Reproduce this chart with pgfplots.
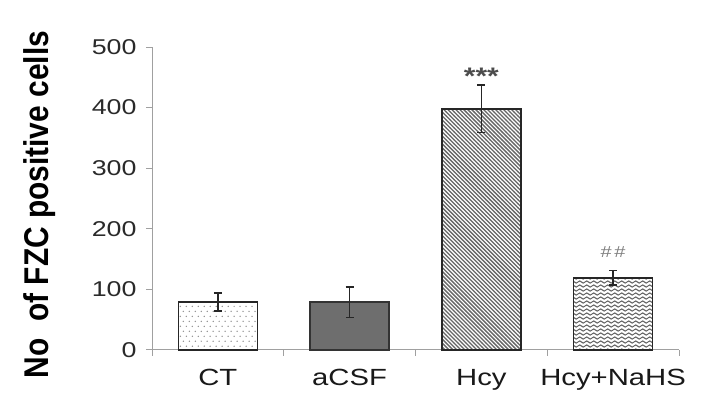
\documentclass[border=0pt]{standalone}
\usepackage{fontspec}
\setmainfont{Liberation Sans}[FakeStretch=1.25]
\newfontfamily\ylabfont{Liberation Sans}
\usepackage{pgfplots}
\pgfplotsset{compat=1.18}
\usetikzlibrary{patterns}
\definecolor{axgray}{HTML}{A0A0A0}
\definecolor{tickgray}{HTML}{2A2A2A}
\definecolor{darkfill}{HTML}{6E6E6E}
\pgfdeclarepatternformonly{sparsedots}{\pgfqpoint{-1pt}{-1pt}}{\pgfqpoint{7pt}{11pt}}{\pgfqpoint{6pt}{10pt}}{%
  \pgfpathcircle{\pgfqpoint{1pt}{1pt}}{0.75pt}%
  \pgfpathcircle{\pgfqpoint{4pt}{6pt}}{0.75pt}%
  \pgfusepath{fill}}
\pgfdeclarepatternformonly{densehatch}{\pgfqpoint{-1pt}{-1pt}}{\pgfqpoint{5pt}{5pt}}{\pgfqpoint{4pt}{4pt}}{%
  \pgfsetlinewidth{1.3pt}%
  \pgfpathmoveto{\pgfqpoint{-0.1pt}{4.1pt}}%
  \pgfpathlineto{\pgfqpoint{4.1pt}{-0.1pt}}%
  \pgfusepath{stroke}}
\pgfdeclarepatternformonly{waves}{\pgfqpoint{0pt}{0pt}}{\pgfqpoint{7pt}{4pt}}{\pgfqpoint{7pt}{4pt}}{%
  \pgfsetlinewidth{1.1pt}%
  \pgfpathmoveto{\pgfqpoint{0pt}{2pt}}%
  \pgfpathcurveto{\pgfqpoint{1.15pt}{3.4pt}}{\pgfqpoint{2.35pt}{3.4pt}}{\pgfqpoint{3.5pt}{2pt}}%
  \pgfpathcurveto{\pgfqpoint{4.65pt}{0.6pt}}{\pgfqpoint{5.85pt}{0.6pt}}{\pgfqpoint{7pt}{2pt}}%
  \pgfusepath{stroke}}
\begin{document}
\begin{tikzpicture}
\path[use as bounding box] (0,0) rectangle (706bp,407bp);
\begin{axis}[
  at={(152bp,57bp)}, anchor=south west,
  scale only axis, width=527bp, height=303bp,
  xmin=0, xmax=4, ymin=0, ymax=500,
  axis x line*=bottom, axis y line*=left,
  axis line style={axgray, line width=1bp},
  tick align=outside,
  xtick={0.5,1.5,2.5,3.5},
  xticklabels={CT,aCSF,Hcy,Hcy+NaHS},
  major x tick style={draw=none},
  minor xtick={0,1,2,3,4},
  minor tick length=6bp,
  minor x tick style={axgray, line width=1bp},
  ytick={0,100,200,300,400,500},
  major tick length=6bp,
  y tick style={axgray, line width=1bp},
  /pgf/number format/assume math mode=true,
  yticklabel style={font=\fontsize{21.5}{24}\selectfont, text=tickgray, xshift=-6bp},
  xticklabel style={font=\fontsize{23.5}{26}\selectfont, text=black!90, yshift=-10bp},
  ylabel={\ylabfont\bfseries No\ \ of FZC positive cells},
  ylabel style={font=\fontsize{30}{32}\selectfont, at={(axis description cs:-0.214,0.48)}, anchor=center, rotate=0, yscale=1.15},
  clip=false,
  error bars/error bar style={line width=1.5bp, black!85},
  error bars/error mark options={rotate=90, mark size=4bp, line width=1.5bp, black!85},
]
\addplot[ybar, bar width=0.6, bar shift=0pt, draw=black!85, line width=1.5bp, pattern=sparsedots, pattern color=black!45,
  error bars/.cd, y dir=both, y explicit] coordinates {(0.5,79) +- (0,15)};
\addplot[ybar, bar width=0.6, bar shift=0pt, draw=black!80, line width=1.5bp, fill=darkfill,
  error bars/.cd, y dir=both, y explicit] coordinates {(1.5,79) +- (0,25)};
\addplot[ybar, bar width=0.6, bar shift=0pt, draw=black!85, line width=1.5bp, pattern=densehatch, pattern color=black!60,
  error bars/.cd, y dir=both, y explicit] coordinates {(2.5,398) +- (0,39)};
\addplot[ybar, bar width=0.6, bar shift=0pt, draw=black!85, line width=1.5bp, pattern=waves, pattern color=black!60,
  error bars/.cd, y dir=both, y explicit] coordinates {(3.5,119) +- (0,12)};
\node[font=\fontsize{24}{24}\selectfont\bfseries, text=black!70] at (axis cs:2.5,452) {***};
\node[font=\fontsize{16}{16}\selectfont, text=black!50] at (axis cs:3.5,162) {\#\,\#};
\end{axis}
\end{tikzpicture}
\end{document}
